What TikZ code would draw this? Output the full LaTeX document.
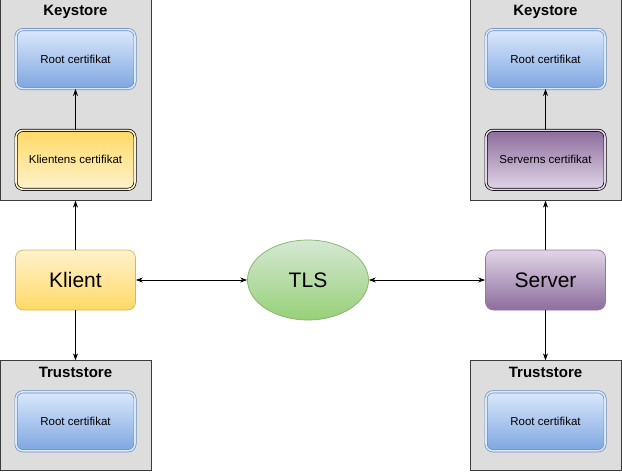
\documentclass[tikz,border=0pt]{standalone}
\usepackage{fontspec}
\setmainfont{Liberation Sans}
\usetikzlibrary{shapes.geometric, arrows.meta, positioning}
\definecolor{storebg}{RGB}{221, 221, 221}
\definecolor{storeline}{RGB}{60, 60, 60}
\definecolor{bluetop}{RGB}{218, 232, 252}
\definecolor{bluebot}{RGB}{126, 166, 224}
\definecolor{blueline}{RGB}{108, 142, 191}
\definecolor{yellowtop}{RGB}{255, 242, 204}
\definecolor{yellowbot}{RGB}{255, 217, 102}
\definecolor{yellowline}{RGB}{214, 182, 86}
\definecolor{purpletop}{RGB}{225, 213, 231}
\definecolor{purplebot}{RGB}{140, 108, 156}
\definecolor{purpleline}{RGB}{150, 115, 166}
\definecolor{greentop}{RGB}{213, 232, 212}
\definecolor{greenbot}{RGB}{151, 208, 119}
\definecolor{greenline}{RGB}{130, 179, 102}

\begin{document}
\begin{tikzpicture}[
    x=1pt, y=1pt,
    store/.style={rectangle, draw=storeline, fill=storebg, line width=0.8pt, minimum width=151pt, inner sep=0pt},
    title/.style={font=\fontsize{15pt}{17pt}\selectfont\bfseries, anchor=base},
    cert/.style={rectangle, rounded corners=7pt, minimum width=119pt, minimum height=59pt, font=\fontsize{11.5pt}{13pt}\selectfont, line width=0.7pt, double distance=1.6pt},
    rootcert/.style={cert, draw=blueline, double=bluetop, top color=bluetop, bottom color=bluebot},
    party/.style={rectangle, rounded corners=8pt, minimum width=120pt, minimum height=60pt, font=\fontsize{21pt}{24pt}\selectfont, line width=0.7pt},
    arrow/.style={-{Stealth[length=7pt, width=5pt]}, line width=0.8pt},
    dblarrow/.style={{Stealth[length=7pt, width=5pt]}-{Stealth[length=7pt, width=5pt]}, line width=0.8pt}
]
    \useasboundingbox (0,0) rectangle (622,-472);

    % parties and channel
    \node[party, draw=yellowline, top color=yellowtop, bottom color=yellowbot] (klient) at (75.5,-280) {Klient};
    \node[ellipse, draw=greenline, top color=greentop, bottom color=greenbot, minimum width=121pt, minimum height=80pt, font=\fontsize{21pt}{24pt}\selectfont, line width=0.7pt] (tls) at (308,-280) {TLS};
    \node[party, draw=purpleline, top color=purpletop, bottom color=purplebot] (server) at (545.5,-280) {Server};

    % stores on the client side
    \node[store, minimum height=202pt, above=49pt of klient] (kstoreL) {};
    \node[store, minimum height=110pt, below=50pt of klient] (tstoreL) {};
    \node[title] (kstoreLtitle) at ([yshift=-18pt]kstoreL.north) {Keystore};
    \node[title] (tstoreLtitle) at ([yshift=-17pt]tstoreL.north) {Truststore};
    \node[cert, draw=black, double=yellowtop, top color=yellowbot, bottom color=yellowtop, above=11pt of kstoreL.south] (klientcert) {Klientens certifikat};
    \node[rootcert, above=41pt of klientcert] (rootL) {Root certifikat};
    \node[rootcert, above=20pt of tstoreL.south] (rootTL) {Root certifikat};

    % stores on the server side
    \node[store, minimum height=202pt, above=49pt of server] (kstoreR) {};
    \node[store, minimum height=110pt, below=50pt of server] (tstoreR) {};
    \node[title] (kstoreRtitle) at ([yshift=-18pt]kstoreR.north) {Keystore};
    \node[title] (tstoreRtitle) at ([yshift=-17pt]tstoreR.north) {Truststore};
    \node[cert, draw=black, double=purpletop, top color=purplebot, bottom color=purpletop, above=11pt of kstoreR.south] (servercert) {Serverns certifikat};
    \node[rootcert, above=41pt of servercert] (rootR) {Root certifikat};
    \node[rootcert, above=20pt of tstoreR.south] (rootTR) {Root certifikat};

    \draw[arrow] (klient) -- (kstoreL);
    \draw[arrow] (klientcert) -- (rootL);
    \draw[arrow] (klient) -- (tstoreL);
    \draw[dblarrow] (klient) -- (tls);
    \draw[dblarrow] (tls) -- (server);
    \draw[arrow] (server) -- (kstoreR);
    \draw[arrow] (servercert) -- (rootR);
    \draw[arrow] (server) -- (tstoreR);
\end{tikzpicture}
\end{document}
